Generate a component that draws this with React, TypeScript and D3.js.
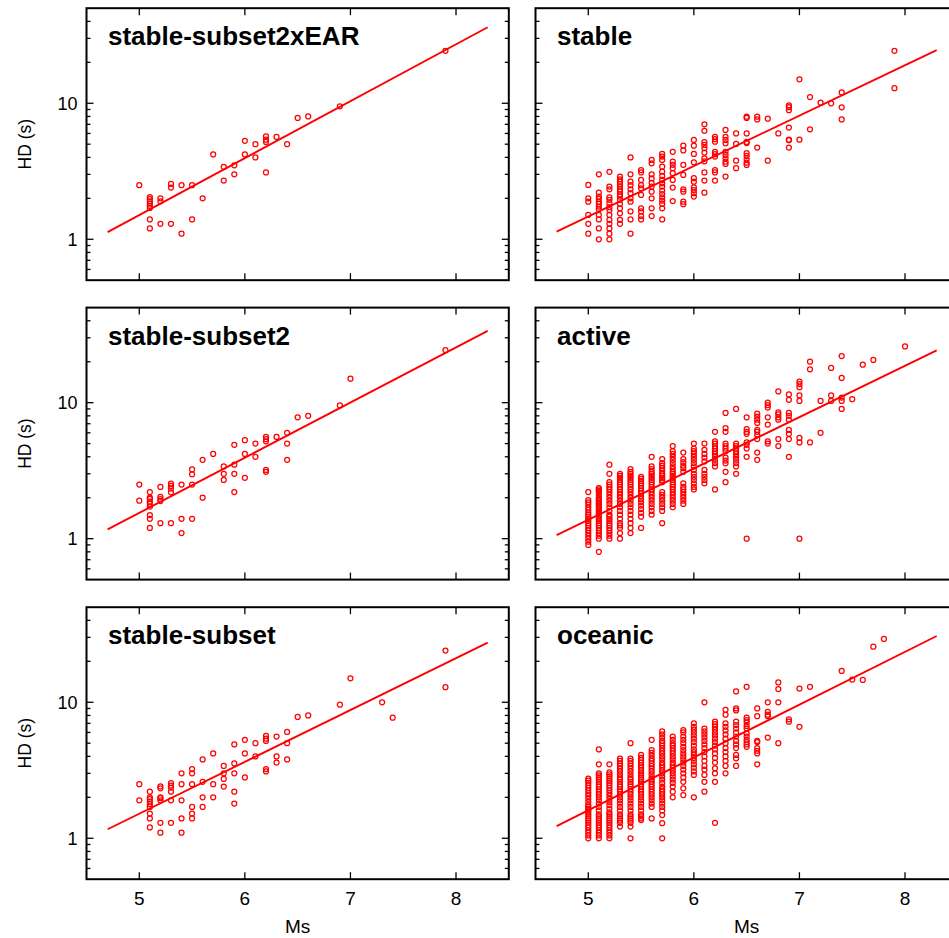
import React from "react";
import * as d3 from "d3";

type Col = [number, number[]];

const titles = ["stable-subset2xEAR", "stable", "stable-subset2", "active", "stable-subset", "oceanic"];

const stableSubset2xEAR: Col[] = [
  [5.0, [2.5]],
  [5.1, [2.04, 1.97, 1.9, 1.83, 1.76, 1.7, 1.4, 1.2]],
  [5.2, [2.0, 1.9, 1.3]],
  [5.3, [2.55, 2.4, 1.3]],
  [5.4, [2.5, 1.1]],
  [5.5, [2.5, 1.4]],
  [5.6, [2.0]],
  [5.7, [4.2]],
  [5.8, [3.4, 2.7]],
  [5.9, [3.5, 3.0]],
  [6.0, [5.3, 4.2]],
  [6.1, [5.0, 4.0]],
  [6.2, [5.7, 5.4, 5.2, 3.1]],
  [6.3, [5.65]],
  [6.4, [5.0]],
  [6.5, [7.8]],
  [6.6, [8.0]],
  [6.9, [9.5]],
  [7.9, [24.3]],
];

const stable: Col[] = [
  [5.0, [2.51, 2.0, 1.89, 1.51, 1.3, 1.1]],
  [5.1, [3.0, 2.2, 2.06, 1.98, 1.88, 1.82, 1.74, 1.66, 1.51, 1.4, 1.2, 1.0]],
  [5.2, [3.13, 2.44, 2.33, 2.03, 1.95, 1.84, 1.72, 1.64, 1.51, 1.39, 1.3, 1.2, 1.1, 1.0]],
  [5.3, [2.89, 2.76, 2.65, 2.55, 2.44, 2.33, 2.24, 2.14, 2.06, 1.95, 1.82, 1.69, 1.55, 1.39, 1.3]],
  [5.4, [4.0, 3.0, 2.65, 2.5, 2.33, 2.18, 2.0, 1.89, 1.6, 1.4, 1.1]],
  [5.5, [3.23, 3.1, 2.73, 2.5, 2.37, 2.12, 1.69, 1.6, 1.48, 1.4]],
  [5.6, [3.83, 3.62, 3.0, 2.8, 2.6, 2.44, 2.24, 2.0, 1.69, 1.48]],
  [5.7, [4.24, 4.06, 3.83, 3.42, 3.14, 2.92, 2.73, 2.58, 2.44, 2.28, 2.15, 2.03, 1.92, 1.82, 1.69, 1.4]],
  [5.8, [4.4, 3.72, 3.53, 3.33, 3.06, 2.73, 2.4, 1.91]],
  [5.9, [4.88, 4.5, 3.53, 2.97, 2.33, 2.24, 1.89, 1.81]],
  [6.0, [5.37, 4.88, 4.24, 3.68, 2.81, 2.65, 2.41, 2.3, 2.18, 2.06]],
  [6.1, [7.0, 6.27, 5.17, 4.94, 4.67, 4.34, 3.94, 3.74, 3.1, 2.7, 2.2]],
  [6.2, [5.67, 5.46, 5.22, 4.4, 4.22, 4.06, 3.23, 3.1, 2.7]],
  [6.3, [6.36, 5.67, 5.37, 5.08, 4.4, 4.17, 3.94, 3.72, 3.58, 2.89]],
  [6.4, [6.0, 5.02, 3.78, 3.33]],
  [6.5, [7.97, 7.8, 6.0, 5.2, 5.1, 4.29, 4.1, 3.87, 3.66, 3.52]],
  [6.6, [7.97, 7.6, 4.72]],
  [6.7, [7.7, 3.78]],
  [6.8, [6.0]],
  [6.9, [9.66, 9.36, 8.9, 6.62, 5.4, 5.35, 4.72]],
  [7.0, [15.0, 5.4]],
  [7.1, [11.1, 6.43]],
  [7.2, [10.1]],
  [7.3, [10.0]],
  [7.4, [12.0, 9.33, 7.6]],
  [7.9, [24.3, 12.9]],
];

const stableSubset2: Col[] = [
  [5.0, [2.5, 1.9]],
  [5.1, [2.2, 2.0, 1.96, 1.87, 1.8, 1.72, 1.49, 1.4, 1.2]],
  [5.2, [2.4, 2.03, 1.95, 1.89, 1.3]],
  [5.3, [2.54, 2.44, 2.34, 2.19, 1.3]],
  [5.4, [2.5, 1.4, 1.1]],
  [5.5, [3.23, 2.97, 2.5, 1.4]],
  [5.6, [3.8, 2.0]],
  [5.7, [4.2]],
  [5.8, [3.4, 3.0, 2.7]],
  [5.9, [4.9, 3.5, 3.0, 2.2]],
  [6.0, [5.3, 4.2, 2.8]],
  [6.1, [5.0, 4.0]],
  [6.2, [5.6, 5.4, 5.2, 3.2, 3.1]],
  [6.3, [5.6]],
  [6.4, [6.0, 5.0, 3.8]],
  [6.5, [7.8]],
  [6.6, [8.0]],
  [6.9, [9.55]],
  [7.0, [15.0]],
  [7.9, [24.3]],
];

const active: Col[] = [
  [5.0, [2.2, 1.92, 1.85, 1.78, 1.7, 1.63, 1.56, 1.5, 1.45, 1.4, 1.35, 1.3, 1.25, 1.2, 1.15, 1.1, 1.05, 1.0, 0.95, 0.9]],
  [5.1, [2.35, 2.3, 2.25, 2.2, 2.1, 2.0, 1.95, 1.9, 1.85, 1.8, 1.75, 1.7, 1.65, 1.6, 1.55, 1.5, 1.45, 1.4, 1.35, 1.3, 1.25, 1.2, 1.15, 1.1, 1.05, 1.0, 0.8]],
  [5.2, [3.5, 3.0, 2.6, 2.5, 2.4, 2.3, 2.2, 2.1, 2.0, 1.9, 1.8, 1.7, 1.6, 1.5, 1.45, 1.4, 1.35, 1.3, 1.25, 1.2, 1.15, 1.1, 1.05, 1.0]],
  [5.3, [3.0, 2.9, 2.8, 2.7, 2.6, 2.5, 2.4, 2.3, 2.2, 2.1, 2.0, 1.9, 1.8, 1.7, 1.6, 1.5, 1.4, 1.3, 1.25, 1.2, 1.1, 1.0]],
  [5.4, [3.25, 3.1, 3.0, 2.9, 2.8, 2.7, 2.6, 2.5, 2.4, 2.3, 2.2, 2.1, 2.0, 1.9, 1.8, 1.7, 1.6, 1.5, 1.4, 1.3, 1.2, 1.1]],
  [5.5, [2.85, 2.75, 2.65, 2.55, 2.45, 2.35, 2.25, 2.15, 2.05, 1.95, 1.85, 1.75, 1.65, 1.55, 1.45, 1.2]],
  [5.6, [4.0, 3.4, 3.25, 3.1, 3.0, 2.9, 2.8, 2.7, 2.6, 2.5, 2.4, 2.3, 2.2, 2.1, 2.0, 1.9, 1.8, 1.7, 1.6, 1.5]],
  [5.7, [3.85, 3.6, 3.45, 3.3, 3.15, 3.0, 2.9, 2.8, 2.7, 2.6, 2.2, 2.1, 2.0, 1.9, 1.8, 1.7, 1.6, 1.3]],
  [5.8, [4.8, 4.4, 4.2, 4.0, 3.8, 3.6, 3.4, 3.25, 3.1, 3.0, 2.9, 2.8, 2.7, 2.6, 2.5, 2.4, 2.3, 2.2, 2.1, 2.0, 1.9, 1.8, 1.7]],
  [5.9, [4.3, 3.85, 3.65, 3.45, 3.3, 3.1, 2.55, 2.4, 2.3, 2.2, 2.1, 2.0, 1.9, 1.8]],
  [6.0, [5.0, 4.6, 4.4, 4.2, 4.0, 3.8, 3.6, 3.4, 3.2, 3.0, 2.85, 2.7, 2.55, 2.4, 2.3]],
  [6.1, [5.0, 4.5, 4.2, 3.95, 3.7, 3.2, 3.0, 2.85, 2.7, 2.55]],
  [6.2, [6.1, 5.2, 5.0, 4.8, 4.6, 4.4, 4.2, 4.0, 3.8, 3.6, 3.4, 2.3]],
  [6.3, [8.4, 6.5, 6.1, 5.0, 4.8, 4.6, 4.4, 3.94, 3.75, 3.58, 3.1, 2.6]],
  [6.4, [9.0, 5.0, 4.8, 4.6, 4.4, 4.2, 4.0, 3.8, 3.6, 3.4, 3.0]],
  [6.5, [7.8, 6.4, 6.1, 5.9, 5.1, 4.9, 4.6, 4.0, 1.0]],
  [6.6, [8.3, 7.9, 7.5, 7.1, 6.3, 6.1, 5.8, 5.4, 4.3, 3.8]],
  [6.7, [10.0, 9.6, 9.2, 7.8, 6.9, 5.2, 5.0]],
  [6.8, [12.1, 8.5, 8.2, 7.8, 7.5, 5.4, 4.8]],
  [6.9, [11.5, 10.5, 8.4, 8.0, 7.5, 6.3, 5.9, 5.4, 4.0]],
  [7.0, [14.3, 13.7, 13.0, 11.3, 10.3, 5.5, 5.1, 1.0]],
  [7.1, [20.0, 17.6, 5.1]],
  [7.2, [10.3, 6.0]],
  [7.3, [18.0, 11.3, 10.3]],
  [7.4, [22.0, 15.2, 10.9, 10.3, 9.0]],
  [7.5, [10.6]],
  [7.6, [19.0]],
  [7.7, [20.6]],
  [8.0, [25.9]],
];

const stableSubset: Col[] = [
  [5.0, [2.5, 1.9]],
  [5.1, [2.2, 2.0, 1.94, 1.86, 1.78, 1.7, 1.52, 1.4, 1.2]],
  [5.2, [2.41, 2.33, 2.0, 1.97, 1.9, 1.3, 1.1]],
  [5.3, [2.54, 2.44, 2.36, 2.2, 1.9, 1.3]],
  [5.4, [3.0, 2.5, 1.9, 1.4, 1.1]],
  [5.5, [3.23, 3.0, 2.5, 1.7, 1.52, 1.4]],
  [5.6, [3.8, 2.6, 2.0, 1.7]],
  [5.7, [4.2, 2.5, 2.0]],
  [5.8, [3.4, 3.0, 2.73, 2.4]],
  [5.9, [4.9, 3.55, 3.0, 2.2, 1.8]],
  [6.0, [5.3, 4.2, 2.8]],
  [6.1, [5.0, 4.0]],
  [6.2, [5.65, 5.4, 5.2, 3.23, 3.1]],
  [6.3, [5.6, 4.0, 3.6]],
  [6.4, [6.05, 5.0, 3.8]],
  [6.5, [7.8]],
  [6.6, [8.0]],
  [6.9, [9.6]],
  [7.0, [15.0]],
  [7.3, [10.0]],
  [7.4, [7.7]],
  [7.9, [24.0, 12.9]],
];

const oceanic: Col[] = [
  [5.0, [2.75, 2.65, 2.55, 2.45, 2.35, 2.25, 2.15, 2.05, 1.95, 1.85, 1.75, 1.7, 1.65, 1.6, 1.55, 1.5, 1.45, 1.4, 1.35, 1.3, 1.25, 1.2, 1.15, 1.1, 1.05, 1.0]],
  [5.1, [4.5, 3.5, 3.0, 2.9, 2.8, 2.7, 2.6, 2.5, 2.4, 2.3, 2.2, 2.1, 2.0, 1.9, 1.8, 1.7, 1.6, 1.5, 1.45, 1.4, 1.35, 1.3, 1.25, 1.2, 1.15, 1.1, 1.05, 1.0]],
  [5.2, [3.5, 3.05, 2.95, 2.85, 2.75, 2.65, 2.55, 2.45, 2.35, 2.25, 2.15, 2.05, 1.95, 1.85, 1.75, 1.65, 1.55, 1.5, 1.45, 1.4, 1.35, 1.3, 1.25, 1.2, 1.15, 1.1, 1.05, 1.0]],
  [5.3, [3.85, 3.7, 3.55, 3.4, 3.25, 3.1, 2.95, 2.8, 2.7, 2.6, 2.5, 2.4, 2.3, 2.2, 2.1, 2.0, 1.9, 1.8, 1.7, 1.6, 1.5, 1.45, 1.4, 1.35, 1.3, 1.22]],
  [5.4, [5.0, 3.85, 3.7, 3.55, 3.4, 3.25, 3.1, 2.95, 2.8, 2.7, 2.6, 2.5, 2.4, 2.3, 2.2, 2.1, 2.0, 1.9, 1.8, 1.7, 1.6, 1.5, 1.45, 1.4, 1.35, 1.3, 1.22, 1.0]],
  [5.5, [4.1, 3.9, 3.75, 3.6, 3.45, 3.3, 3.15, 3.0, 2.9, 2.8, 2.7, 2.6, 2.5, 2.4, 2.3, 2.2, 2.1, 2.0, 1.9, 1.8, 1.7, 1.6, 1.5, 1.45, 1.4, 1.36]],
  [5.6, [5.3, 4.45, 4.25, 4.05, 3.85, 3.7, 3.55, 3.4, 3.25, 3.1, 2.95, 2.8, 2.7, 2.6, 2.5, 2.4, 2.3, 2.2, 2.1, 2.0, 1.9, 1.8, 1.7, 1.4]],
  [5.7, [6.1, 5.8, 5.5, 5.2, 5.0, 4.8, 4.6, 4.4, 4.2, 4.0, 3.8, 3.6, 3.45, 3.3, 3.15, 3.0, 2.85, 2.7, 2.55, 2.4, 2.3, 2.2, 2.1, 2.0, 1.9, 1.8, 1.7, 1.6, 1.48, 1.29, 1.0]],
  [5.8, [5.6, 5.3, 5.0, 4.8, 4.6, 4.4, 4.2, 4.0, 3.8, 3.6, 3.45, 3.3, 3.15, 3.0, 2.85, 2.7, 2.55, 2.4, 2.2, 2.0]],
  [5.9, [6.25, 6.0, 5.6, 5.3, 5.0, 4.7, 4.45, 4.2, 4.0, 3.8, 3.6, 3.4, 3.2, 3.0, 2.8, 2.6, 2.33, 2.08]],
  [6.0, [7.0, 6.6, 6.3, 6.0, 5.7, 5.4, 5.1, 4.8, 4.5, 4.3, 4.1, 3.9, 3.7, 3.5, 3.3, 3.1, 2.92, 2.0]],
  [6.1, [10.0, 6.4, 6.1, 5.8, 5.5, 5.2, 4.9, 4.6, 4.3, 4.0, 3.7, 3.4, 3.2, 2.92, 2.6, 2.2]],
  [6.2, [7.2, 6.9, 6.6, 6.3, 6.0, 5.7, 5.4, 5.1, 4.8, 4.5, 4.2, 3.9, 3.6, 3.27, 3.0, 2.6, 1.3]],
  [6.3, [8.8, 8.1, 7.0, 6.6, 6.2, 5.8, 5.4, 5.0, 4.6, 4.3, 4.0, 3.7, 3.4, 3.0]],
  [6.4, [12.0, 9.0, 8.7, 7.2, 6.8, 6.4, 6.0, 5.6, 5.2, 4.9, 4.6, 4.1, 3.87, 3.4]],
  [6.5, [13.0, 7.7, 7.4, 7.1, 6.7, 6.4, 5.9, 5.6, 5.3, 5.1, 4.9, 4.7]],
  [6.6, [9.0, 7.9, 5.2, 5.1, 4.6, 4.4, 4.2, 3.5]],
  [6.7, [10.0, 8.5, 8.1, 7.9, 5.5]],
  [6.8, [14.0, 12.5, 10.0, 5.0]],
  [6.9, [7.5, 7.2]],
  [7.0, [12.6, 6.6]],
  [7.1, [13.0]],
  [7.4, [17.0]],
  [7.5, [14.7]],
  [7.6, [14.6]],
  [7.7, [25.6]],
  [7.8, [29.2]],
];

const panelData: Col[][] = [stableSubset2xEAR, stable, stableSubset2, active, stableSubset, oceanic];

const fitMs = [4.7, 8.3];
const fitStartHD = [1.13, 1.14, 1.17, 1.06, 1.165, 1.23];
const fitEndHD = [36.2, 24.6, 33.7, 24.2, 27.4, 30.7];

const xTicks = [5, 6, 7, 8];
const yMajor = [1, 10];
const yMinor = [0.6, 0.7, 0.8, 0.9, 2, 3, 4, 5, 6, 7, 8, 9, 20, 30, 40];

const xDomain: [number, number] = [4.5, 8.5];
const yDomain: [number, number] = [0.5, 50];

const colLeft = [86.5, 535.5];
const panelW = 422.3;
const rowTop = [8.2, 307.6, 607.2];
const panelH = 272;

const FONT = "'Liberation Sans', Arial, Helvetica, sans-serif";
const RED = "#ff0000";

function Panel({ idx }: { idx: number }) {
  const col = idx % 2;
  const row = Math.floor(idx / 2);
  const x0 = colLeft[col];
  const y0 = rowTop[row];
  const x = d3.scaleLinear().domain(xDomain).range([x0, x0 + panelW]);
  const y = d3.scaleLog().domain(yDomain).range([y0 + panelH, y0]);
  const pts: [number, number][] = [];
  panelData[idx].forEach(([m, hs]) => hs.forEach((h) => pts.push([m, h])));
  const line = d3
    .line<[number, number]>()
    .x((d) => x(d[0]))
    .y((d) => y(d[1]));
  const fit: [number, number][] = [
    [fitMs[0], fitStartHD[idx]],
    [fitMs[1], fitEndHD[idx]],
  ];
  const xr = x0 + panelW;
  const yb = y0 + panelH;
  const major = 7;
  const minor = 4;
  return (
    <g>
      {xTicks.map((t) => (
        <g key={"xt" + t} stroke="#000" strokeWidth={1.3}>
          <line x1={x(t)} x2={x(t)} y1={yb} y2={yb - major} />
          <line x1={x(t)} x2={x(t)} y1={y0} y2={y0 + major} />
        </g>
      ))}
      {yMajor.map((t) => (
        <g key={"ym" + t} stroke="#000" strokeWidth={1.3}>
          <line x1={x0} x2={x0 + major} y1={y(t)} y2={y(t)} />
          <line x1={xr} x2={xr - major} y1={y(t)} y2={y(t)} />
        </g>
      ))}
      {yMinor.map((t) => (
        <g key={"yn" + t} stroke="#000" strokeWidth={1.3}>
          <line x1={x0} x2={x0 + minor} y1={y(t)} y2={y(t)} />
          <line x1={xr} x2={xr - minor} y1={y(t)} y2={y(t)} />
        </g>
      ))}
      <path d={line(fit) || ""} fill="none" stroke={RED} strokeWidth={1.9} />
      {pts.map((p, i) => (
        <circle key={i} cx={x(p[0])} cy={y(p[1])} r={2.5} fill="none" stroke={RED} strokeWidth={1.25} />
      ))}
      <rect x={x0} y={y0} width={panelW} height={panelH} fill="none" stroke="#000" strokeWidth={2} />
      <text x={x0 + 21.5} y={y0 + 37} fontFamily={FONT} fontWeight="bold" fontSize={26} fill="#000">
        {titles[idx]}
      </text>
      {col === 0 &&
        yMajor.map((t) => (
          <text key={"yl" + t} x={x0 - 9} y={y(t) + 6.5} textAnchor="end" fontFamily={FONT} fontSize={18} fill="#000">
            {String(t)}
          </text>
        ))}
      {col === 0 && (
        <text
          transform={`translate(31,${y0 + panelH / 2}) rotate(-90)`}
          textAnchor="middle"
          fontFamily={FONT}
          fontSize={17.5}
          fill="#000"
        >
          HD (s)
        </text>
      )}
      {row === 2 &&
        xTicks.map((t) => (
          <text key={"xl" + t} x={x(t)} y={yb + 26} textAnchor="middle" fontFamily={FONT} fontSize={19} fill="#000">
            {String(t)}
          </text>
        ))}
      {row === 2 && (
        <text x={x0 + panelW / 2} y={yb + 54} textAnchor="middle" fontFamily={FONT} fontSize={19} fill="#000">
          Ms
        </text>
      )}
    </g>
  );
}

export default function App() {
  return (
    <svg
      width={949}
      height={938}
      viewBox="0 0 949 938"
      style={{ position: "absolute", left: 0, top: 0, background: "#fff" }}
    >
      <rect x={0} y={0} width={949} height={938} fill="#fff" />
      {titles.map((_, i) => (
        <Panel key={i} idx={i} />
      ))}
    </svg>
  );
}
